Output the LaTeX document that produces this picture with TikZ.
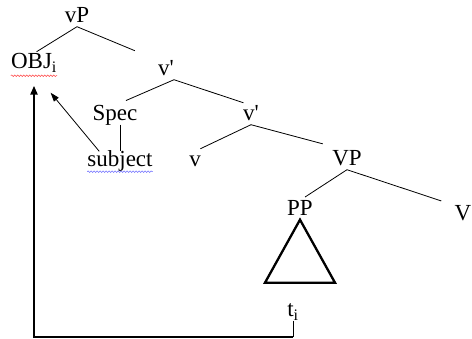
\documentclass[tikz,border=0pt]{standalone}
\usepackage{fontspec}
\setmainfont{Liberation Serif}
\usepackage{tikz}
\usetikzlibrary{arrows.meta, decorations.pathmorphing}

\tikzset{
  etiq/.style={inner sep=0pt, text height=15pt, text depth=4pt, font=\fontsize{23}{27}\selectfont},
  rama/.style={line width=0.8pt},
  grueso/.style={line width=2.3pt},
  ondas/.style={line width=0.5pt, decorate, decoration={snake, amplitude=0.8pt, segment length=3pt}}
}

\begin{document}
\begin{tikzpicture}[x=1pt, y=-1pt]
		\useasboundingbox (0,0) rectangle (472,338);
		% Nodos del arbol
		\node[etiq] (vP) at (77,17) {vP};
		\node[etiq] (obj) at (34,63) {OBJ\textsubscript{i}};
		\node[etiq] (vbarA) at (166,70) {v\textquotesingle};
		\node[etiq] (spec) at (115,115) {Spec};
		\node[etiq] (subj) at (120,161) {subject};
		\node[etiq] (vlow) at (195,161) {v};
		\node[etiq] (vbarB) at (251,115) {v\textquotesingle};
		\node[etiq] (VP) at (347,160) {VP};
		\node[etiq] (PP) at (300,210) {PP};
		\node[etiq] (V) at (463,215) {V};
		\node[etiq] (ti) at (293,311) {t\textsubscript{i}};
		% Ramas
		\draw[rama, shorten >=3pt] (vP.south) -- (obj.north);
		\draw[rama, shorten >=25pt] (vP.south) -- (vbarA.north west);
		\draw[rama, shorten >=12pt] (vbarA.south east) -- (spec.north);
		\draw[rama, shorten >=8pt] (vbarA.south east) -- (vbarB.north);
		\draw[rama] (spec.south -| subj.north) -- (subj.north);
		\draw[rama, shorten >=6pt] (vbarB.south) -- (vlow.north);
		\draw[rama, shorten >=25pt] (vbarB.south) -- (VP.north);
		\draw[rama, shorten >=6pt] (VP.south) -- (PP.north);
		\draw[rama, shorten >=14pt] (VP.south) -- (V.north west);
		% Triangulo del PP
		\draw[grueso, line join=miter] (PP.south) -- ++(-35,63) -- ++(70,0) -- cycle;
		% Movimiento
		\coordinate (esq) at ([yshift=-16pt]ti.south);
		\draw[rama] (ti.south) -- (esq);
		\draw[grueso, -{Triangle[length=9pt, width=7pt]}, shorten >=13pt] (esq) -| (obj.south);
		\draw[rama, -{Triangle[length=9pt, width=6pt]}, shorten >=26pt] ([xshift=12pt]subj.north west) -- (obj.south);
		% Subrayados
		\draw[ondas, red!80] ([yshift=-3pt]obj.south west) -- ([yshift=-3pt]obj.south east);
		\draw[ondas, blue!60] ([yshift=-1pt]subj.south west) -- ([yshift=-1pt]subj.south east);
	\end{tikzpicture}
\end{document}
